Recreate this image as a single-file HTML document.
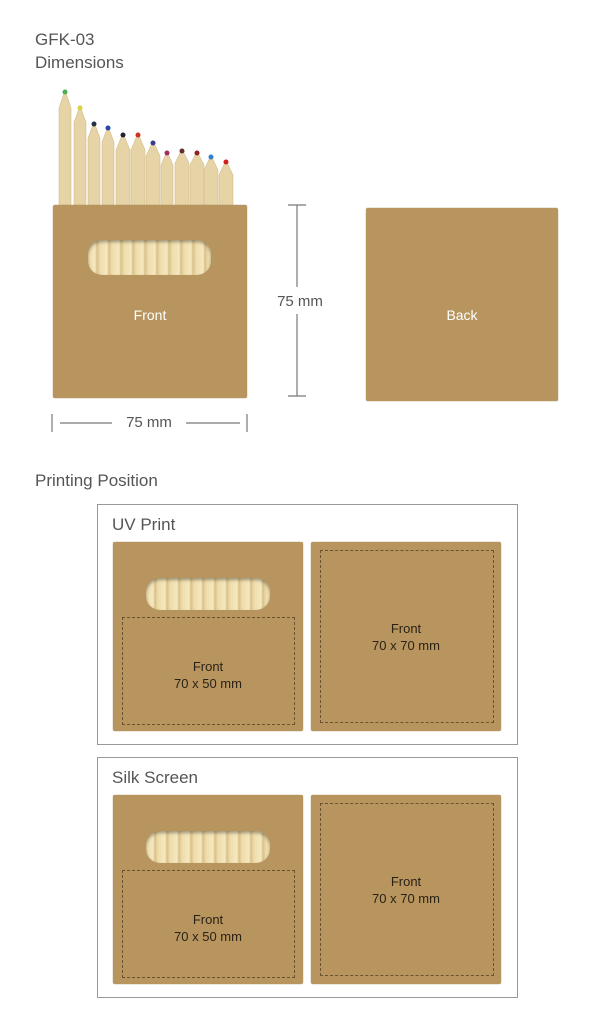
<!DOCTYPE html>
<html><head><style>
body{margin:0;width:615px;height:1024px;background:#fff;font-family:"Liberation Sans",sans-serif;position:relative;overflow:hidden}
.a{position:absolute}
.t{color:#555;font-size:17px}
.box{position:absolute;background:#b8955f;border-radius:2px;box-shadow:0 0 1px #8a6d3f}
.win{position:absolute;border-radius:14px;background:repeating-linear-gradient(90deg,#efdcaa 0,#f5e8c0 7px,#d9c08a 9px,#efdcaa 12px);box-shadow:inset 0 2px 3px rgba(0,0,0,.35)}
.dash{position:absolute;border:1px dashed #6b5330}
.lbl{position:absolute;color:#2a2215;font-size:13px;text-align:center;line-height:17px}
.frame{position:absolute;border:1px solid #999}
</style></head><body>
<div class="a t" style="left:35px;top:30px">GFK-03</div>
<div class="a t" style="left:35px;top:53px">Dimensions</div>

<svg class="a" style="left:0;top:0" width="615" height="440">
<g id="p"></g>
<!-- pencils -->
<g fill="#e6d3a6" stroke="#cdb583" stroke-width="0.5">
<polygon points="59,208 59,108 65,90 71,108 71,208"/>
<polygon points="74,208 74,122 80,106 86,122 86,208"/>
<polygon points="88,208 88,138 94,122 100,138 100,208"/>
<polygon points="102,208 102,142 108,126 114,142 114,208"/>
<polygon points="116,208 116,150 123,133 130,150 130,208"/>
<polygon points="131,208 131,150 138,133 145,150 145,208"/>
<polygon points="146,208 146,156 153,141 160,156 160,208"/>
<polygon points="161,208 161,165 167,151 173,165 173,208"/>
<polygon points="175,208 175,163 182,149 189,163 189,208"/>
<polygon points="190,208 190,165 197,151 204,165 204,208"/>
<polygon points="204,208 204,170 211,155 218,170 218,208"/>
<polygon points="219,208 219,175 226,160 233,175 233,208"/>
</g>
<g>
<circle cx="65" cy="92" r="2.5" fill="#4caf50"/><circle cx="80" cy="108" r="2.5" fill="#d8d040"/>
<circle cx="94" cy="124" r="2.5" fill="#234"/><circle cx="108" cy="128" r="2.5" fill="#2848a8"/>
<circle cx="123" cy="135" r="2.5" fill="#223"/><circle cx="138" cy="135" r="2.5" fill="#d03020"/>
<circle cx="153" cy="143" r="2.5" fill="#3a3a90"/><circle cx="167" cy="153" r="2.5" fill="#a03060"/>
<circle cx="182" cy="151" r="2.5" fill="#603030"/><circle cx="197" cy="153" r="2.5" fill="#902020"/>
<circle cx="211" cy="157" r="2.5" fill="#3080d0"/><circle cx="226" cy="162" r="2.5" fill="#d02020"/>
</g>
<g stroke="#777" stroke-width="1.2" fill="none">
<line x1="297" y1="205" x2="297" y2="287"/><line x1="297" y1="314" x2="297" y2="396"/>
<line x1="288" y1="205" x2="306" y2="205"/><line x1="288" y1="396" x2="306" y2="396"/>
<line x1="52" y1="414" x2="52" y2="432"/><line x1="247" y1="414" x2="247" y2="432"/>
<line x1="60" y1="423" x2="112" y2="423"/><line x1="186" y1="423" x2="240" y2="423"/>
</g>
<text x="300" y="306" font-size="15" fill="#555" text-anchor="middle" font-family="Liberation Sans">75 mm</text>
<text x="149" y="427" font-size="15" fill="#555" text-anchor="middle" font-family="Liberation Sans">75 mm</text>
</svg>

<div class="box" style="left:53px;top:205px;width:194px;height:193px"></div>
<div class="win" style="left:88px;top:240px;width:123px;height:35px"></div>
<div class="lbl" style="left:53px;top:307px;width:194px;color:#fff;font-size:14px">Front</div>
<div class="box" style="left:366px;top:208px;width:192px;height:193px"></div>
<div class="lbl" style="left:366px;top:307px;width:192px;color:#fff;font-size:14px">Back</div>

<div class="a t" style="left:35px;top:471px">Printing Position</div>

<div class="frame" style="left:97px;top:504px;width:419px;height:239px"></div>
<div class="a t" style="left:112px;top:515px">UV Print</div>
<div class="box" style="left:113px;top:542px;width:190px;height:189px"></div>
<div class="win" style="left:146px;top:578px;width:124px;height:32px"></div>
<div class="dash" style="left:122px;top:617px;width:171px;height:106px"></div>
<div class="lbl" style="left:122px;top:658px;width:172px">Front<br>70 x 50 mm</div>
<div class="box" style="left:311px;top:542px;width:190px;height:189px"></div>
<div class="dash" style="left:320px;top:550px;width:172px;height:171px"></div>
<div class="lbl" style="left:320px;top:620px;width:172px">Front<br>70 x 70 mm</div>

<div class="frame" style="left:97px;top:757px;width:419px;height:239px"></div>
<div class="a t" style="left:112px;top:768px">Silk Screen</div>
<div class="box" style="left:113px;top:795px;width:190px;height:189px"></div>
<div class="win" style="left:146px;top:831px;width:124px;height:32px"></div>
<div class="dash" style="left:122px;top:870px;width:171px;height:106px"></div>
<div class="lbl" style="left:122px;top:911px;width:172px">Front<br>70 x 50 mm</div>
<div class="box" style="left:311px;top:795px;width:190px;height:189px"></div>
<div class="dash" style="left:320px;top:803px;width:172px;height:171px"></div>
<div class="lbl" style="left:320px;top:873px;width:172px">Front<br>70 x 70 mm</div>
</body></html>
